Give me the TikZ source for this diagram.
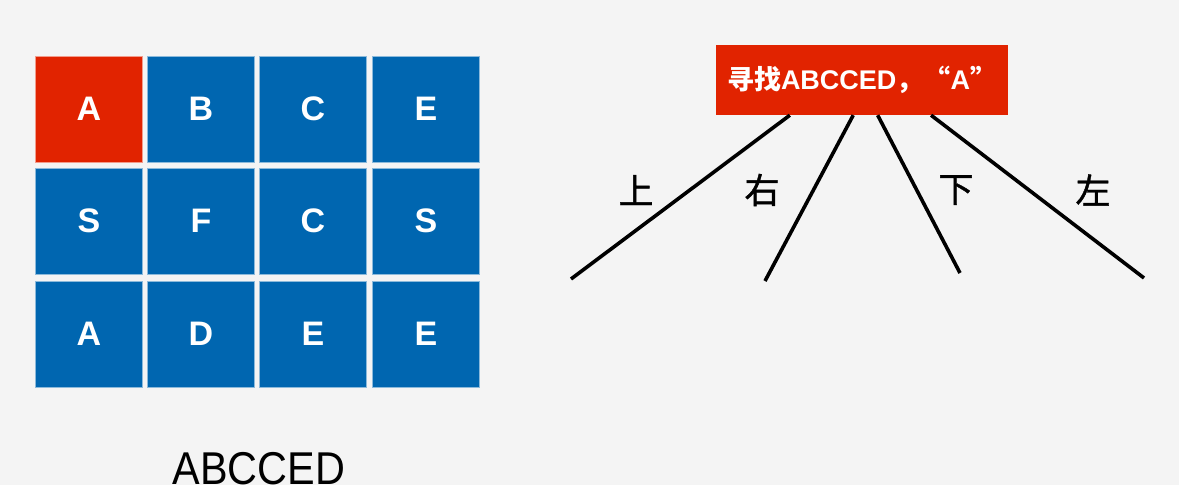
\documentclass[tikz,border=0pt]{standalone}
\usepackage{fontspec}
\setmainfont{Liberation Sans}
\newfontfamily\cjk{Noto Sans CJK SC}
\newfontfamily\cjkgrueso{Noto Sans CJK SC}[FakeBold=1.2]
\usetikzlibrary{positioning}

\definecolor{fondo_gris}{HTML}{F4F4F4}
\definecolor{azul_celda}{HTML}{0066B0}
\definecolor{rojo_celda}{HTML}{E12300}

\begin{document}
\begin{tikzpicture}[x=1pt, y=-1pt,
  celda/.style={rectangle, fill=azul_celda, draw=azul_celda!45!white, line width=0.8pt,
    minimum width=107pt, minimum height=106pt, inner sep=0pt, text=white,
    font=\fontsize{34}{34}\selectfont\bfseries},
  marcada/.style={celda, fill=rojo_celda, draw=rojo_celda!45!white},
  rama/.style={line width=3.6pt, black},
  direccion/.style={font=\cjkgrueso\fontsize{35}{35}\selectfont, text=black, inner sep=0pt}]

  \fill[fondo_gris] (0,0) rectangle (1179,485);
  \useasboundingbox (0,0) rectangle (1179,485);

  % The board of letters

  \node [marcada] (a11) at (89,109)  {A};
  \node [celda]   (a12) at (201,109) {B};
  \node [celda]   (a13) at (313,109) {C};
  \node [celda]   (a14) at (426,109) {E};

  \node [celda]   (a21) at (89,221)  {S};
  \node [celda]   (a22) at (201,221) {F};
  \node [celda]   (a23) at (313,221) {C};
  \node [celda]   (a24) at (426,221) {S};

  \node [celda]   (a31) at (89,334)  {A};
  \node [celda]   (a32) at (201,334) {D};
  \node [celda]   (a33) at (313,334) {E};
  \node [celda]   (a34) at (426,334) {E};

  \node [font=\fontsize{46}{46}\selectfont, xscale=0.9, anchor=base] (word) at (259,484) {ABCCED};

  % The search step and its four directions

  \node [rectangle, fill=rojo_celda, minimum width=292pt, minimum height=70pt, inner sep=0pt,
    text=white, font=\fontsize{27}{27}\selectfont\bfseries] (root) at (862,80)
    {{\cjk\bfseries 寻找}ABCCED{\cjk\bfseries ，“}A{\cjk\bfseries ”}};

  \coordinate (up)    at (571,279);
  \coordinate (right) at (765,281);
  \coordinate (down)  at (960,273);
  \coordinate (left)  at (1144,278);

  \draw [rama] (root.-154.1) -- (up);
  \draw [rama] (root.-104.4) -- (right);
  \draw [rama] (root.-66.8)  -- (down);
  \draw [rama] (root.-27.2)  -- (left);

  \node [direccion] (lup)    at (636,190)  {上};
  \node [direccion] (lright) at (762,190)  {右};
  \node [direccion] (ldown)  at (956,190)  {下};
  \node [direccion] (lleft)  at (1093,190) {左};

\end{tikzpicture}
\end{document}
